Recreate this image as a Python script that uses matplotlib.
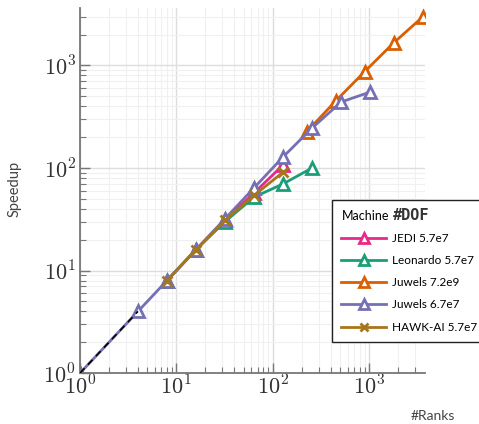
import matplotlib
matplotlib.use("Agg")
import matplotlib.pyplot as plt
import numpy as np
from matplotlib.ticker import LogLocator, NullFormatter, FuncFormatter

plt.rcParams['mathtext.fontset'] = 'cm'
plt.rcParams['font.family'] = ['Lato', 'DejaVu Sans']

# data
jedi_ranks = [8, 16, 32, 64, 128]
jedi_speedup = [8, 16, 31, 57, 107]

leo_ranks = [8, 16, 32, 64, 128, 256]
leo_speedup = [8, 16, 30, 52, 70, 100]

juwels_big_ranks = [225, 450, 900, 1800, 3600]
juwels_big_speedup = [225, 450, 870, 1660, 2970]

juwels_ranks = [1, 4, 8, 16, 32, 64, 128, 256, 512, 1024]
juwels_speedup = [1, 4, 8, 16, 32, 64, 128, 245, 440, 550]

hawk_ranks = [8, 16, 32, 64, 128]
hawk_speedup = [8, 16, 31, 54, 91]

ideal_ranks = [1, 4]

colors = ['#e7298a', '#1b9e77', '#d95f02', '#7570b3', '#a6761d']

fig = plt.figure(figsize=(4.79, 4.24), dpi=100)
ax = fig.add_axes([0.167, 0.12, 0.72, 0.861])

kw = dict(lw=2, ms=8.5, mew=2, mfc='white')
ax.plot(jedi_ranks, jedi_speedup, color=colors[0], marker='^', label='JEDI 5.7e7', **kw)
ax.plot(leo_ranks, leo_speedup, color=colors[1], marker='^', label='Leonardo 5.7e7', **kw)
ax.plot(juwels_big_ranks, juwels_big_speedup, color=colors[2], marker='^', label='Juwels 7.2e9', **kw)
ax.plot(juwels_ranks, juwels_speedup, color=colors[3], marker='^', label='Juwels 6.7e7', **kw)
ax.plot(hawk_ranks, hawk_speedup, color=colors[4], marker='x', lw=2, ms=7, mew=2, label='HAWK-AI 5.7e7')
ax.plot(ideal_ranks, ideal_ranks, color='black', ls=(0, (4, 3)), lw=1.2, zorder=5)

ax.set_xscale('log')
ax.set_yscale('log')
ax.set_xlim(1, 3800)
ax.set_ylim(1, 3630)

pow_fmt = FuncFormatter(lambda v, p: r'$10^{%d}$' % int(round(np.log10(v))))
ax.xaxis.set_major_locator(LogLocator(base=10, numticks=10))
ax.yaxis.set_major_locator(LogLocator(base=10, numticks=10))
ax.xaxis.set_major_formatter(pow_fmt)
ax.yaxis.set_major_formatter(pow_fmt)
ax.xaxis.set_minor_locator(LogLocator(base=10, subs=range(2, 10), numticks=20))
ax.yaxis.set_minor_locator(LogLocator(base=10, subs=range(2, 10), numticks=20))
ax.xaxis.set_minor_formatter(NullFormatter())
ax.yaxis.set_minor_formatter(NullFormatter())

ax.grid(True, which='major', color='#dddddd', lw=1)
ax.grid(True, which='minor', color='#f0f0f0', lw=0.8)
ax.set_axisbelow(True)

for s in ['top', 'right']:
    ax.spines[s].set_visible(False)
for s in ['left', 'bottom']:
    ax.spines[s].set_color('#777777')
    ax.spines[s].set_linewidth(1.3)

ax.tick_params(which='major', direction='in', length=7, width=1, color='#777777',
               labelsize=16, labelcolor='#333333')
ax.tick_params(which='minor', direction='in', length=4, width=0.8, color='#777777')
ax.tick_params(axis='x', pad=1)
ax.tick_params(axis='y', pad=3)

fig.text(0.031, 0.555, 'Speedup', rotation=90, ha='center', va='center', fontsize=10.5, color='#444444')
fig.text(0.95, 0.02, '#Ranks', ha='right', va='center', fontsize=10, color='#444444')

leg = ax.legend(loc='upper left', bbox_to_anchor=(0.693, 0.528), bbox_transform=fig.transFigure,
                title='Machine', fancybox=False, edgecolor='#222222', borderaxespad=0,
                framealpha=1, fontsize=8.5, title_fontsize=9, handlelength=3.8,
                handletextpad=0.5, borderpad=0.8, labelspacing=0.95, alignment='left',
                markerscale=0.85)
leg.get_frame().set_linewidth(1)

# monospace "#DOF" next to the legend title
fig.canvas.draw()
tb = leg.get_title().get_window_extent(fig.canvas.get_renderer())
fig.text((tb.x1 + 4) / fig.bbox.width, (tb.y0 + tb.y1) / 2 / fig.bbox.height, '#DOF',
         family='DejaVu Sans Mono', fontweight='bold', fontsize=11, va='center', ha='left',
         color='#333333', zorder=10)

fig.savefig('out.png', dpi=100)
